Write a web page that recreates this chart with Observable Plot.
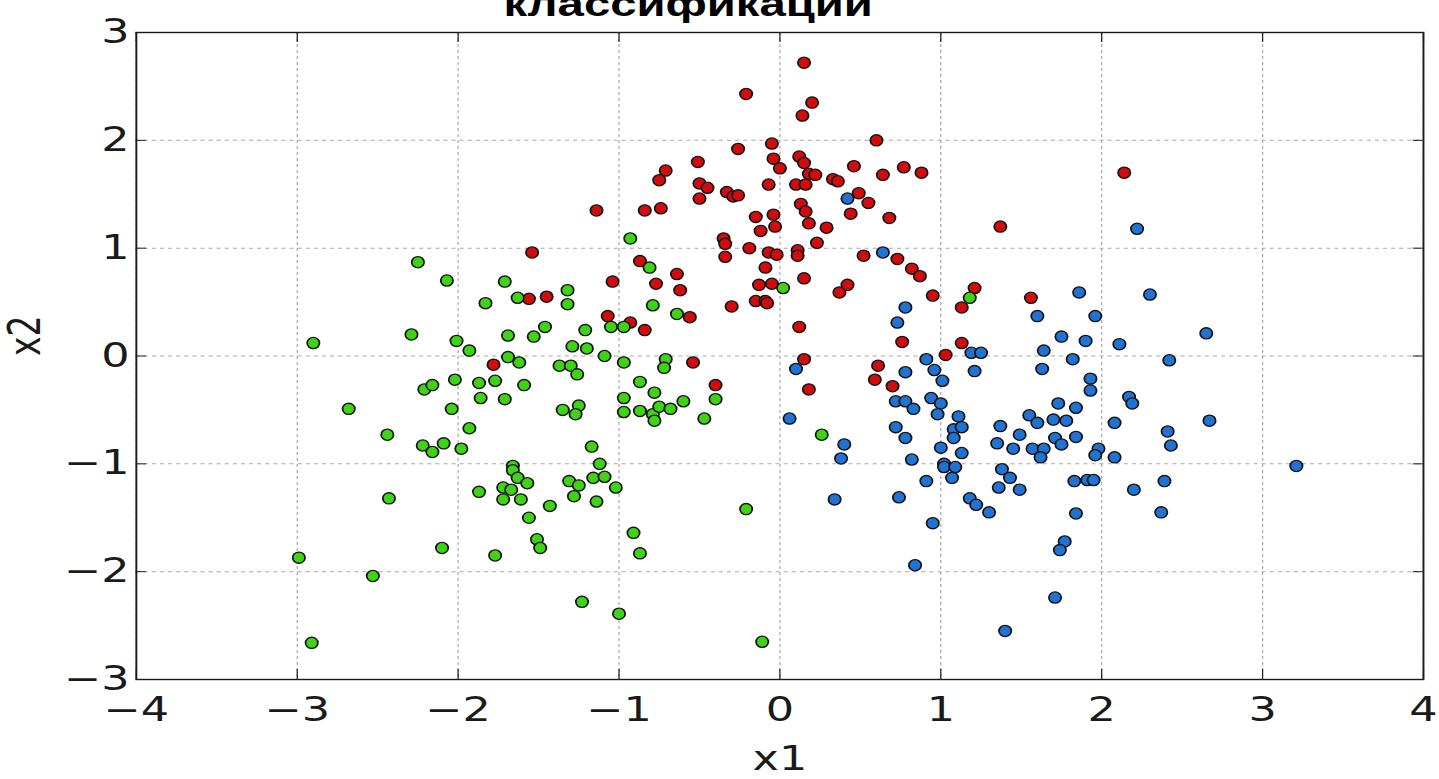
<!DOCTYPE html>
<html>
<head>
<meta charset="utf-8">
<script src="https://cdn.jsdelivr.net/npm/d3@7"></script>
<script src="https://cdn.jsdelivr.net/npm/@observablehq/plot@0.6"></script>
<style>
  html, body { margin: 0; padding: 0; background: #fff; overflow: hidden; }
  #chart { width: 1439px; height: 779px; }
</style>
</head>
<body>
<div id="chart"></div>
<script>
// Title line (the heading continues above the visible area)
const titleText = "классификации";
const xLabel = "x1";
const yLabel = "x2";

// Axis ticks
const xTicks = [-4, -3, -2, -1, 0, 1, 2, 3, 4];
const yTicks = [-3, -2, -1, 0, 1, 2, 3];

// Classes and their colours
const classNames = ["0", "1", "2"];
const classColors = ["#d20c0c", "#3fd316", "#2073d3"];

// Class 0 (red) samples: [x1, x2]
const redPoints = [
  [-1.14, 1.35], [-1.54, 0.96],
  [0.15, 2.72], [-0.21, 2.43], [0.20, 2.35], [0.14, 2.23], [0.60, 2.00], [-0.05, 1.97],
  [-0.26, 1.92], [-0.51, 1.80], [-0.04, 1.83], [0.12, 1.85], [0.15, 1.79], [0.00, 1.74],
  [0.46, 1.76], [0.77, 1.75], [0.88, 1.70], [0.64, 1.68], [-0.71, 1.72], [-0.75, 1.63],
  [0.18, 1.69], [0.22, 1.68], [-0.50, 1.60], [-0.45, 1.56], [-0.07, 1.59], [0.10, 1.59],
  [0.16, 1.59], [0.33, 1.64], [0.36, 1.62], [0.49, 1.51], [0.55, 1.42], [0.44, 1.32],
  [0.68, 1.28], [-0.33, 1.52], [-0.29, 1.48], [-0.26, 1.49], [-0.50, 1.46], [-0.84, 1.35],
  [-0.74, 1.37], [0.13, 1.41], [0.16, 1.34], [-0.15, 1.29], [-0.04, 1.31], [-0.03, 1.20],
  [-0.12, 1.16], [0.18, 1.23], [0.29, 1.19], [-0.35, 1.09], [-0.34, 1.04], [-0.19, 1.00],
  [0.23, 1.05], [-0.07, 0.96], [-0.02, 0.94], [0.11, 0.98], [0.11, 0.93], [0.52, 0.93],
  [0.73, 0.90], [-0.87, 0.88], [-0.34, 0.92],
  [2.14, 1.70], [1.37, 1.20],
  [-1.04, 0.69], [-1.56, 0.53], [-1.45, 0.55], [-1.07, 0.37], [-1.78, -0.08],
  [-0.64, 0.76], [-0.77, 0.67], [-0.62, 0.61], [-0.56, 0.36], [-0.93, 0.31], [-0.84, 0.24],
  [0.82, 0.81], [0.87, 0.74], [0.95, 0.56], [1.13, 0.45], [1.13, 0.12], [-0.09, 0.82],
  [-0.13, 0.66], [-0.05, 0.67], [0.15, 0.72], [-0.30, 0.46], [-0.15, 0.51], [-0.09, 0.51],
  [-0.08, 0.49], [0.37, 0.59], [0.42, 0.66], [0.12, 0.27], [0.76, 0.13], [-0.54, -0.06],
  [0.15, -0.03], [0.18, -0.31], [1.03, 0.01], [0.61, -0.09], [0.59, -0.22], [0.70, -0.28],
  [-0.40, -0.27],
  [1.21, 0.63], [1.56, 0.54]
];

// Class 1 (green) samples: [x1, x2]
const greenPoints = [
  [-0.93, 1.09],
  [-2.25, 0.87], [-2.07, 0.70], [-1.71, 0.69], [-1.63, 0.54], [-1.32, 0.61], [-1.32, 0.48],
  [-1.83, 0.49], [-1.05, 0.27], [-0.97, 0.27], [-1.21, 0.24], [-1.46, 0.27], [-1.53, 0.18],
  [-1.69, 0.19], [-2.29, 0.20], [-2.90, 0.12], [-2.01, 0.14], [-1.93, 0.05], [-1.29, 0.09],
  [-1.20, 0.07], [-1.09, 0.00], [-0.97, -0.06], [-1.69, -0.01], [-1.62, -0.06], [-1.37, -0.09],
  [-1.30, -0.09], [-1.26, -0.17], [-2.02, -0.22], [-1.87, -0.25], [-1.77, -0.23], [-1.59, -0.27],
  [-2.21, -0.31], [-2.16, -0.27], [-1.86, -0.39], [-1.71, -0.40], [-2.68, -0.49], [-2.04, -0.49],
  [-1.35, -0.50], [-1.25, -0.46], [-1.27, -0.54], [-0.97, -0.39], [-0.97, -0.52], [-1.93, -0.67],
  [-2.44, -0.73], [-2.22, -0.83], [-2.16, -0.89], [-2.09, -0.81], [-1.98, -0.86], [-1.17, -0.84],
  [-1.12, -1.00], [-1.66, -1.02],
  [-0.81, 0.82], [-0.79, 0.47], [-0.64, 0.39], [0.02, 0.63], [-0.71, -0.03], [-0.72, -0.11],
  [-0.87, -0.24], [-0.78, -0.34], [-0.40, -0.40], [-0.60, -0.42], [-0.87, -0.51], [-0.79, -0.54],
  [-0.75, -0.47], [-0.68, -0.49], [-0.78, -0.60], [-0.47, -0.58], [0.26, -0.73],
  [1.18, 0.54],
  [-2.99, -1.87], [-2.91, -2.66], [-2.43, -1.32], [-2.53, -2.04], [-2.10, -1.78], [-1.87, -1.26],
  [-1.77, -1.85], [-1.66, -1.06], [-1.63, -1.13], [-1.57, -1.18], [-1.72, -1.22], [-1.67, -1.24],
  [-1.72, -1.33], [-1.61, -1.33], [-1.43, -1.39], [-1.56, -1.50], [-1.51, -1.70], [-1.49, -1.78],
  [-1.31, -1.16], [-1.25, -1.20], [-1.28, -1.30], [-1.16, -1.13], [-1.09, -1.12], [-1.14, -1.35],
  [-1.02, -1.22], [-1.23, -2.28], [-1.00, -2.39],
  [-0.21, -1.42], [-0.91, -1.64], [-0.87, -1.83], [-0.11, -2.65]
];

// Class 2 (blue) samples: [x1, x2]
const bluePoints = [
  [0.42, 1.46], [0.64, 0.96], [2.22, 1.18],
  [0.78, 0.45], [0.73, 0.31], [0.10, -0.12], [0.91, -0.03], [0.78, -0.15], [0.96, -0.13],
  [1.01, -0.23], [0.06, -0.58], [0.40, -0.82], [0.38, -0.95], [0.72, -0.42], [0.78, -0.42],
  [0.83, -0.49], [0.94, -0.39], [1.00, -0.44], [0.98, -0.54], [0.72, -0.66], [0.78, -0.76],
  [1.00, -0.85], [0.82, -0.96], [1.11, -0.56], [1.08, -0.68], [1.13, -0.66], [1.08, -0.76],
  [1.13, -0.90], [1.02, -1.00],
  [1.86, 0.59], [2.30, 0.57], [1.60, 0.37], [1.96, 0.37], [2.65, 0.21], [1.75, 0.18],
  [1.90, 0.14], [2.11, 0.11], [1.19, 0.03], [1.25, 0.03], [1.64, 0.05], [1.21, -0.14],
  [1.63, -0.12], [1.82, -0.03], [2.42, -0.04], [1.93, -0.21], [1.93, -0.32], [2.17, -0.38],
  [2.19, -0.44], [1.73, -0.44], [1.84, -0.48], [1.55, -0.55], [1.60, -0.62], [1.70, -0.59],
  [1.78, -0.60], [1.37, -0.65], [2.08, -0.62], [2.67, -0.60], [1.49, -0.73], [1.71, -0.76],
  [1.75, -0.82], [1.84, -0.75], [1.35, -0.81], [1.45, -0.86], [1.57, -0.86], [1.64, -0.86],
  [1.62, -0.94], [1.98, -0.86], [1.96, -0.92], [2.41, -0.70], [2.43, -0.83], [2.08, -0.94],
  [3.21, -1.02],
  [0.34, -1.33], [0.74, -1.31], [0.91, -1.16], [0.95, -1.55], [0.84, -1.94], [1.02, -1.03],
  [1.09, -1.03], [1.07, -1.13],
  [1.38, -1.05], [1.43, -1.13], [1.36, -1.22], [1.49, -1.24], [1.18, -1.32], [1.22, -1.38],
  [1.30, -1.45], [1.83, -1.16], [1.91, -1.15], [1.95, -1.15], [1.84, -1.46], [2.20, -1.24],
  [2.39, -1.16], [2.37, -1.45], [1.77, -1.72], [1.74, -1.80], [1.71, -2.24], [1.40, -2.55]
];

const samples = [
  ...redPoints.map(([x1, x2]) => ({x1, x2, cls: classNames[0]})),
  ...greenPoints.map(([x1, x2]) => ({x1, x2, cls: classNames[1]})),
  ...bluePoints.map(([x1, x2]) => ({x1, x2, cls: classNames[2]}))
];

// The figure is laid out in a narrower box and widened horizontally as a whole
const STRETCH = 1439 / 1066;
const W = 1066, H = 779;
const mL = 100.5, mR = 12, mT = 32, mB = 100;
const frameW = W - mL - mR, frameH = H - mT - mB;
const minus = (d) => String(d).replace("-", "\u2212");
const tickColor = "#1a1a1a";

// Marker that stays nearly round once the figure is widened
const roundMarker = {
  draw(context, size) {
    const r = Math.sqrt(size / Math.PI);
    const ry = r, rx = r * 1.1 / STRETCH, k = 0.5523;
    context.moveTo(rx, 0);
    context.bezierCurveTo(rx, k * ry, k * rx, ry, 0, ry);
    context.bezierCurveTo(-k * rx, ry, -rx, k * ry, -rx, 0);
    context.bezierCurveTo(-rx, -k * ry, -k * rx, -ry, 0, -ry);
    context.bezierCurveTo(k * rx, -ry, rx, -k * ry, rx, 0);
    context.closePath();
  }
};

const chart = Plot.plot({
  width: W,
  height: H,
  marginLeft: mL,
  marginRight: mR,
  marginTop: mT,
  marginBottom: mB,
  style: {fontFamily: "DejaVu Sans", fontSize: "33px", color: tickColor, background: "#fff"},
  x: {domain: [-4, 4]},
  y: {domain: [-3, 3]},
  color: {type: "ordinal", domain: classNames, range: classColors},
  marks: [
    // dashed grid
    Plot.gridX(xTicks, {stroke: "#a8a8a8", strokeOpacity: 1, strokeWidth: 0.9, strokeDasharray: "3,3"}),
    Plot.gridY(yTicks, {stroke: "#a8a8a8", strokeOpacity: 1, strokeWidth: 1, strokeDasharray: "3,3"}),
    // inward tick marks on all four sides
    Plot.ruleX(xTicks, {x: (d) => d, stroke: tickColor, strokeWidth: 0.9, insetTop: frameH - 10}),
    Plot.ruleX(xTicks, {x: (d) => d, stroke: tickColor, strokeWidth: 0.9, insetBottom: frameH - 10}),
    Plot.ruleY(yTicks, {y: (d) => d, stroke: tickColor, strokeWidth: 1, insetRight: frameW - 7.5}),
    Plot.ruleY(yTicks, {y: (d) => d, stroke: tickColor, strokeWidth: 1, insetLeft: frameW - 7.5}),
    // tick labels
    Plot.axisX(xTicks, {tickSize: 0, tickPadding: 18, tickFormat: minus, label: null, fontSize: 33, fill: tickColor}),
    Plot.axisY(yTicks, {tickSize: 0, tickPadding: 5, tickFormat: minus, label: null, fontSize: 33, fill: tickColor}),
    // samples
    Plot.dot(samples, {x: "x1", y: "x2", fill: "cls", r: 5.6, symbol: roundMarker, stroke: "#141414", strokeWidth: 1.3}),
    Plot.frame({stroke: tickColor, strokeWidth: 1.4}),
    // axis titles
    Plot.text([xLabel], {frameAnchor: "bottom", dy: 80, lineAnchor: "middle", fontSize: 33, fill: tickColor}),
    Plot.text([yLabel], {frameAnchor: "left", dx: -71, rotate: -90, lineAnchor: "bottom", fontSize: 33, fill: tickColor}),
    // heading
    Plot.text([titleText], {
      frameAnchor: "top", dx: -68, dy: -28, lineAnchor: "middle",
      fontFamily: "Liberation Sans", fontWeight: "bold", fontSize: 35, fill: "#000"
    })
  ]
});

chart.style.transformOrigin = "0 0";
chart.style.transform = `scaleX(${STRETCH})`;
chart.style.maxWidth = "none";
document.getElementById("chart").append(chart);
</script>
</body>
</html>
